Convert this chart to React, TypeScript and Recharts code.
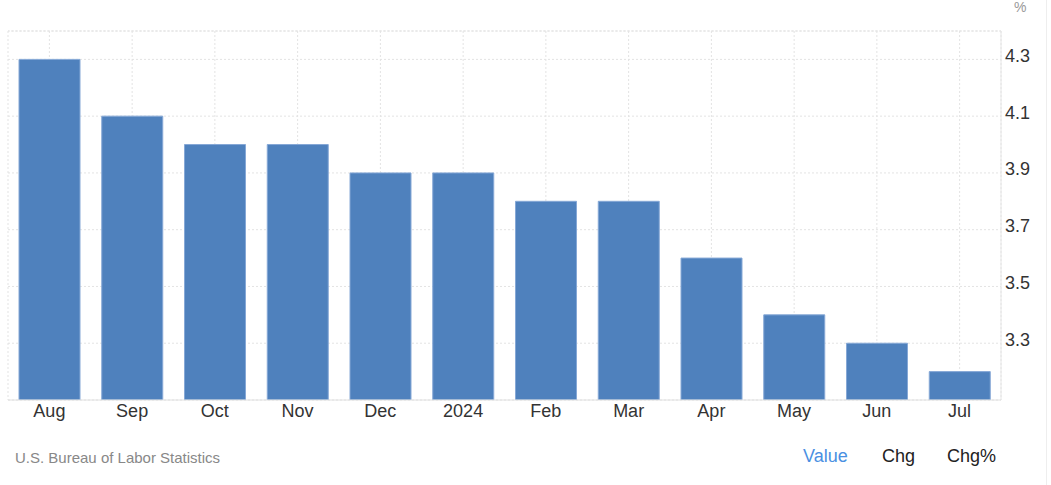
import React from 'react';
import { BarChart, Bar, XAxis, YAxis, CartesianGrid, ReferenceLine } from 'recharts';

const MONTHS = ['Aug', 'Sep', 'Oct', 'Nov', 'Dec', '2024', 'Feb', 'Mar', 'Apr', 'May', 'Jun', 'Jul'];
const RATES = [4.3, 4.1, 4.0, 4.0, 3.9, 3.9, 3.8, 3.8, 3.6, 3.4, 3.3, 3.2];
const Y_TICKS = [3.3, 3.5, 3.7, 3.9, 4.1, 4.3];
const Y_DOMAIN: [number, number] = [3.1, 4.4];

const FONT = '"Liberation Sans", Arial, sans-serif';

const chartData = MONTHS.map((m, i) => ({ month: m, value: RATES[i] }));

export default function App() {
  return (
    <div style={{ position: 'absolute', left: 0, top: 0, width: 1051, height: 485, fontFamily: FONT, overflow: 'hidden', background: '#fff' }}>
      <BarChart width={1051} height={485} data={chartData} margin={{ top: 31, right: 0, bottom: 55, left: 8 }}>
        <CartesianGrid stroke="#e3e3e3" strokeDasharray="2 2" />
        <ReferenceLine y={4.4} stroke="#e3e3e3" strokeDasharray="2 2" />
        <XAxis
          dataKey="month"
          height={30}
          tickLine={false}
          tickSize={4}
          tickMargin={0}
          axisLine={{ stroke: '#e0e0e0' }}
          tick={{ fill: '#333', fontSize: 18, fontFamily: FONT }}
          interval={0}
        />
        <YAxis
          yAxisId="left"
          orientation="left"
          width={0}
          domain={Y_DOMAIN}
          tick={false}
          tickLine={false}
          axisLine={{ stroke: '#e6e6e6' }}
        />
        <YAxis
          orientation="right"
          width={50}
          domain={Y_DOMAIN}
          ticks={Y_TICKS}
          allowDataOverflow
          tickLine={false}
          tickSize={4}
          tickMargin={0}
          axisLine={{ stroke: '#e6e6e6' }}
          tick={{ fill: '#333', fontSize: 18, fontFamily: FONT, dy: -4 }}
          tickFormatter={(v: number) => v.toFixed(1)}
        />
        <Bar dataKey="value" fill="#4f81bd" stroke="#86a8d6" strokeWidth={1} barSize={61} isAnimationActive={false} />
      </BarChart>
      <div style={{ position: 'absolute', left: 1014, top: 0, fontSize: 14, lineHeight: '14px', color: '#999' }}>%</div>
      <div style={{ position: 'absolute', left: 15, top: 449, fontSize: 15, color: '#888' }}>U.S. Bureau of Labor Statistics</div>
      <div style={{ position: 'absolute', left: 803, top: 446, fontSize: 18, color: '#4a90e2' }}>Value</div>
      <div style={{ position: 'absolute', left: 882, top: 446, fontSize: 18, color: '#222' }}>Chg</div>
      <div style={{ position: 'absolute', left: 947, top: 446, fontSize: 18, color: '#222' }}>Chg%</div>
      <div style={{ position: 'absolute', left: 1046, top: 0, width: 1, height: 485, background: '#eee' }} />
    </div>
  );
}
